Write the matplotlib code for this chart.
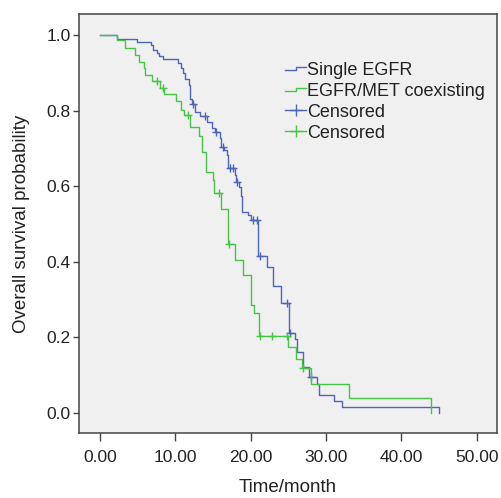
import matplotlib

matplotlib.use("Agg")
import matplotlib.pyplot as plt
import numpy as np
from matplotlib.legend_handler import HandlerBase
from matplotlib.lines import Line2D

plt.rcParams["font.family"] = ["Liberation Sans", "DejaVu Sans"]

# Kaplan-Meier steps: time (month) and survival after each step
single_times = [0, 2.2, 4.9, 6.7, 7.0, 7.5, 7.8, 8.4, 10.3, 10.7, 11.0, 11.3,
                11.8, 12.0, 12.2, 12.6, 13.3, 14.2, 14.8, 15.3, 15.9, 16.0,
                16.4, 16.8, 17.0, 17.9, 18.1, 18.4, 18.7, 18.9, 19.6, 20.1,
                21.0, 22.2, 23.0, 24.0, 25.1, 25.9, 26.1, 27.0, 27.8, 28.8,
                29.0, 31.1, 32.1, 45.0]
single_surv = [1.0, 0.991, 0.982, 0.974, 0.962, 0.952, 0.945, 0.937, 0.927,
               0.912, 0.901, 0.883, 0.868, 0.830, 0.817, 0.797, 0.786, 0.771,
               0.753, 0.744, 0.727, 0.704, 0.696, 0.683, 0.649, 0.630, 0.612,
               0.599, 0.573, 0.533, 0.524, 0.511, 0.415, 0.387, 0.336, 0.292,
               0.211, 0.197, 0.162, 0.122, 0.096, 0.078, 0.048, 0.033, 0.015,
               0.0]
single_censored = [12.4, 13.9, 15.4, 16.3, 17.3, 17.7, 18.2, 20.3, 20.9, 21.2,
                   24.8, 25.2, 28.0]

coexist_times = [0, 2.3, 3.3, 4.7, 5.2, 5.8, 6.0, 6.9, 7.9, 8.5, 10.1, 10.8,
                 11.2, 12.0, 13.1, 13.5, 14.0, 14.1, 15.0, 15.1, 16.0, 17.0,
                 17.9, 19.0, 20.1, 20.5, 21.1, 25.0, 26.0, 26.8, 28.0, 33.1,
                 44.0]
coexist_surv = [1.0, 0.987, 0.966, 0.948, 0.930, 0.912, 0.894, 0.878, 0.861,
                0.843, 0.825, 0.802, 0.788, 0.757, 0.733, 0.690, 0.677, 0.639,
                0.616, 0.581, 0.541, 0.446, 0.405, 0.365, 0.285, 0.264, 0.204,
                0.175, 0.143, 0.118, 0.078, 0.040, 0.0]
coexist_censored = [7.5, 8.4, 11.7, 15.8, 17.05, 21.2, 22.8, 24.8, 26.9]

x_ticks = [0, 10, 20, 30, 40, 50]
y_ticks = [0.0, 0.2, 0.4, 0.6, 0.8, 1.0]

BLUE = "#4D66B8"
GREEN = "#47C447"
TEXT = "#222222"


def _value_at(times, surv, t):
    idx = np.searchsorted(times, t, side="right") - 1
    return surv[idx]


class StepHandler(HandlerBase):
    def create_artists(self, legend, orig_handle, xdescent, ydescent,
                       width, height, fontsize, trans):
        x0, x1 = -xdescent, -xdescent + width
        xm = (x0 + x1) / 2
        y_low = -ydescent + height * 0.38
        y_high = -ydescent + height * 0.62
        line = Line2D([x0, xm, xm, x1], [y_low, y_low, y_high, y_high],
                      color=orig_handle.get_color(), linewidth=1.0,
                      transform=trans)
        return [line]


fig = plt.figure(figsize=(5.01, 4.98), dpi=100)
ax = fig.add_axes([0.1577, 0.1305, 0.8343, 0.8414])
ax.set_facecolor("#F0F0F0")

groups = [
    (single_times, single_surv, single_censored, BLUE),
    (coexist_times, coexist_surv, coexist_censored, GREEN),
]
for times, surv, censored, color in groups:
    ax.step(times, surv, where="post", color=color, linewidth=1.0)
    cens_y = [_value_at(times, surv, t) for t in censored]
    ax.plot(censored, cens_y, linestyle="none", marker="+", markersize=6,
            markeredgewidth=1.0, color=color)

ax.set_xlim(-2.8, 52.7)
ax.set_ylim(-0.053, 1.056)
ax.set_xticks(x_ticks)
ax.set_xticklabels([f"{v:.2f}" for v in x_ticks])
ax.set_yticks(y_ticks)
ax.set_yticklabels([f"{v:.1f}" for v in y_ticks])
ax.tick_params(axis="x", length=6, width=1.0, pad=6, labelsize=12.5,
               colors="#444444", labelcolor=TEXT)
ax.tick_params(axis="y", length=4.5, width=1.0, pad=1.5, labelsize=12.5,
               colors="#444444", labelcolor=TEXT)
for spine in ax.spines.values():
    spine.set_color("#444444")
    spine.set_linewidth(1.1)

ax.set_xlabel("Time/month", fontsize=13.5, color=TEXT, labelpad=10.5)
ax.set_ylabel("Overall survival probability", fontsize=13.5, color=TEXT,
              labelpad=12)

handles = [
    Line2D([], [], color=BLUE),
    Line2D([], [], color=GREEN),
    Line2D([], [], color=BLUE, marker="+", markersize=9, markeredgewidth=1.0,
           linewidth=1.0),
    Line2D([], [], color=GREEN, marker="+", markersize=9, markeredgewidth=1.0,
           linewidth=1.0),
]
labels = ["Single EGFR", "EGFR/MET coexisting", "Censored", "Censored"]
ax.legend(handles, labels, loc="upper left", bbox_to_anchor=(0.476, 0.903),
          frameon=False, fontsize=13, handlelength=1.15, handletextpad=0.05,
          labelspacing=0.22, borderaxespad=0, numpoints=1,
          handler_map={handles[0]: StepHandler(), handles[1]: StepHandler()},
          labelcolor=TEXT)

fig.savefig("out.png", dpi=100, facecolor="white")
